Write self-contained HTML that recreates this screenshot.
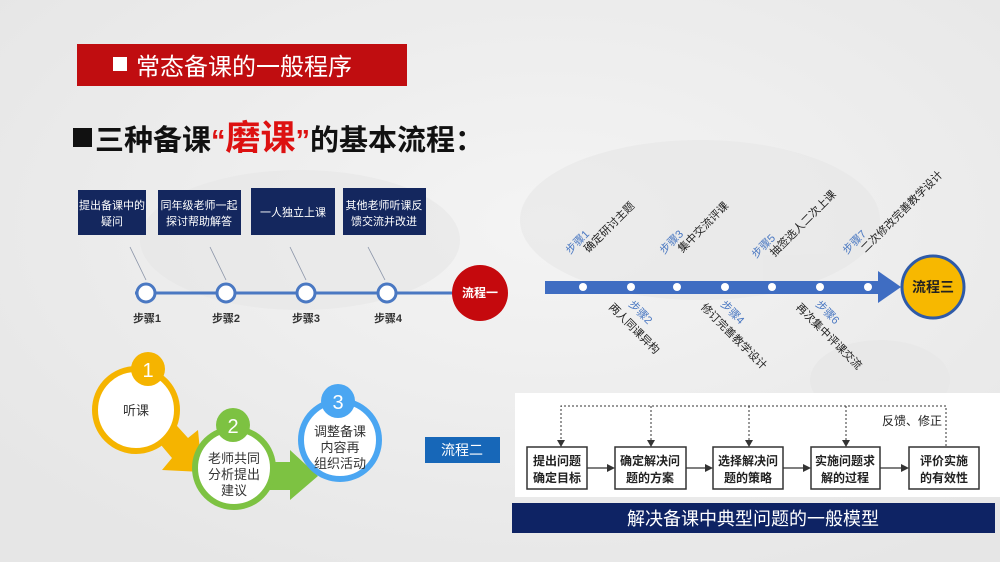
<!DOCTYPE html>
<html><head><meta charset="utf-8"><style>
body{margin:0;width:1000px;height:562px;overflow:hidden;background:#efefef;font-family:"Liberation Sans","Noto Sans CJK SC",sans-serif;}
svg{display:block}
text{font-family:"Liberation Sans","Noto Sans CJK SC",sans-serif;}
</style></head><body>
<svg width="1000" height="562" viewBox="0 0 1000 562" xmlns="http://www.w3.org/2000/svg">
<defs>
<radialGradient id="bg" cx="0.55" cy="0.4" r="0.7"><stop offset="0" stop-color="#f4f4f4"/><stop offset="1" stop-color="#e6e6e6"/></radialGradient>
</defs>
<rect width="1000" height="562" fill="url(#bg)"/>
<g fill="#e6e6e6" opacity="0.6">
<ellipse cx="300" cy="240" rx="160" ry="70"/>
<ellipse cx="700" cy="220" rx="180" ry="80"/>
<ellipse cx="880" cy="380" rx="70" ry="40"/>
</g>
<!-- header -->
<rect x="77" y="44" width="330" height="42" fill="#c00d10"/>
<rect x="113" y="57" width="14" height="14" fill="#fff"/>
<text x="136" y="75" font-size="24" fill="#fff">常态备课的一般程序</text>
<!-- title -->
<rect x="73" y="128" width="19" height="19" fill="#111"/>
<text x="95" y="150" font-size="29" font-weight="bold" fill="#111">三种备课<tspan fill="#d11">“</tspan><tspan fill="#d11" font-size="35">磨课</tspan><tspan fill="#d11">”</tspan>的基本流程：</text>

<!-- flow 1 -->
<g fill="#14275e">
<rect x="78" y="190" width="68" height="45"/>
<rect x="158" y="190" width="83" height="45"/>
<rect x="251" y="188" width="84" height="47"/>
<rect x="343" y="188" width="83" height="47"/>
</g>
<g fill="#fff" font-size="11" font-family="Liberation Serif,Noto Serif CJK SC,serif" text-anchor="middle">
<text x="112" y="209">提出备课中的</text><text x="112" y="225">疑问</text>
<text x="199" y="209">同年级老师一起</text><text x="199" y="225">探讨帮助解答</text>
<text x="293" y="216">一人独立上课</text>
<text x="384" y="209">其他老师听课反</text><text x="384" y="225">馈交流并改进</text>
</g>
<g stroke="#8a94a8" stroke-width="0.8">
<line x1="130" y1="247" x2="146" y2="280"/>
<line x1="210" y1="247" x2="226" y2="280"/>
<line x1="290" y1="247" x2="306" y2="280"/>
<line x1="368" y1="247" x2="385" y2="280"/>
</g>
<line x1="135" y1="293" x2="460" y2="293" stroke="#4a78c2" stroke-width="3"/>
<g fill="#fff" stroke="#4a78c2" stroke-width="3">
<circle cx="146" cy="293" r="9"/><circle cx="226" cy="293" r="9"/><circle cx="306" cy="293" r="9"/><circle cx="387" cy="293" r="9"/>
</g>
<g font-size="11" font-weight="bold" fill="#333" text-anchor="middle">
<text x="147" y="322">步骤1</text><text x="226" y="322">步骤2</text><text x="306" y="322">步骤3</text><text x="388" y="322">步骤4</text>
</g>
<circle cx="480" cy="293" r="28" fill="#c5090d"/>
<text x="480" y="297" font-size="12" fill="#fff" text-anchor="middle" font-weight="bold">流程一</text>

<!-- flow 3 -->
<rect x="545" y="281" width="337" height="13" fill="#3f6dc2"/>
<polygon points="878,271 901,287 878,303" fill="#3f6dc2"/>
<g fill="#fff">
<circle cx="583" cy="287" r="4"/><circle cx="631" cy="287" r="4"/><circle cx="677" cy="287" r="4"/><circle cx="725" cy="287" r="4"/><circle cx="772" cy="287" r="4"/><circle cx="820" cy="287" r="4"/><circle cx="868" cy="287" r="4"/>
</g>
<circle cx="933" cy="287" r="31" fill="#f7b800" stroke="#2e5aa8" stroke-width="3"/>
<text x="933" y="292" font-size="14" font-weight="bold" fill="#222" text-anchor="middle">流程三</text>
<g font-size="11" font-family="Liberation Serif,Noto Serif CJK SC,serif">
<g transform="translate(580,256) rotate(-45)"><text fill="#4a78c2" x="-6" y="-8">步骤1</text><text fill="#222" x="8" y="4">确定研讨主题</text></g>
<g transform="translate(674,256) rotate(-45)"><text fill="#4a78c2" x="-6" y="-8">步骤3</text><text fill="#222" x="8" y="4">集中交流评课</text></g>
<g transform="translate(766,260) rotate(-45)"><text fill="#4a78c2" x="-6" y="-8">步骤5</text><text fill="#222" x="8" y="4">抽签选人二次上课</text></g>
<g transform="translate(857,256) rotate(-45)"><text fill="#4a78c2" x="-6" y="-8">步骤7</text><text fill="#222" x="8" y="4">二次修改完善教学设计</text></g>
<g transform="translate(628,305) rotate(45)"><text fill="#4a78c2" x="0" y="0">步骤2</text><text fill="#222" x="-12" y="16">两人同课异构</text></g>
<g transform="translate(720,305) rotate(45)"><text fill="#4a78c2" x="0" y="0">步骤4</text><text fill="#222" x="-12" y="16">修订完善教学设计</text></g>
<g transform="translate(815,305) rotate(45)"><text fill="#4a78c2" x="0" y="0">步骤6</text><text fill="#222" x="-12" y="16">再次集中评课交流</text></g>
</g>

<!-- flow 2 -->
<polygon points="150,432 168,416 188,438 198,430 202,472 162,470 172,458" fill="#f5b400"/>
<polygon points="262,462 290,462 290,450 318,476 290,500 290,490 262,490" fill="#7dc242"/>
<circle cx="136" cy="410" r="41" fill="#fff" stroke="#f5b400" stroke-width="6"/>
<circle cx="148" cy="369" r="17" fill="#f5b400"/>
<text x="148" y="377" font-size="20" fill="#fff" text-anchor="middle">1</text>
<text x="136" y="415" font-size="13" fill="#333" text-anchor="middle">听课</text>
<circle cx="234" cy="468" r="39" fill="#fff" stroke="#7dc242" stroke-width="6"/>
<circle cx="233" cy="425" r="17" fill="#7dc242"/>
<text x="233" y="433" font-size="20" fill="#fff" text-anchor="middle">2</text>
<g font-size="13" fill="#333" text-anchor="middle"><text x="234" y="463">老师共同</text><text x="234" y="479">分析提出</text><text x="234" y="495">建议</text></g>
<circle cx="340" cy="440" r="39" fill="#fff" stroke="#4aa6f2" stroke-width="6"/>
<circle cx="338" cy="401" r="17" fill="#4aa6f2"/>
<text x="338" y="409" font-size="20" fill="#fff" text-anchor="middle">3</text>
<g font-size="13" fill="#333" text-anchor="middle"><text x="340" y="436">调整备课</text><text x="340" y="452">内容再</text><text x="340" y="468">组织活动</text></g>
<rect x="425" y="437" width="75" height="26" fill="#1767b8"/>
<text x="462" y="455" font-size="14" fill="#fff" text-anchor="middle">流程二</text>

<!-- model -->
<rect x="515" y="393" width="485" height="104" fill="#fff"/>
<g stroke="#333" stroke-width="1" fill="none" stroke-dasharray="2,2">
<polyline points="561,447 561,406 946,406 946,447"/>
<line x1="651" y1="406" x2="651" y2="447"/>
<line x1="749" y1="406" x2="749" y2="447"/>
<line x1="846" y1="406" x2="846" y2="447"/>
</g>
<g fill="#333">
<polygon points="557,440 565,440 561,447"/><polygon points="647,440 655,440 651,447"/><polygon points="745,440 753,440 749,447"/><polygon points="842,440 850,440 846,447"/>
</g>
<text x="882" y="425" font-size="12" fill="#222">反馈、修正</text>
<g stroke="#333" stroke-width="1.5" fill="#fff">
<rect x="527" y="447" width="60" height="42"/>
<rect x="615" y="447" width="71" height="42"/>
<rect x="713" y="447" width="70" height="42"/>
<rect x="811" y="447" width="69" height="42"/>
<rect x="909" y="447" width="70" height="42"/>
</g>
<g stroke="#333" stroke-width="1.2">
<line x1="587" y1="468" x2="610" y2="468"/><line x1="686" y1="468" x2="708" y2="468"/><line x1="783" y1="468" x2="806" y2="468"/><line x1="880" y1="468" x2="904" y2="468"/>
</g>
<g fill="#333"><polygon points="615,468 607,464 607,472"/><polygon points="713,468 705,464 705,472"/><polygon points="811,468 803,464 803,472"/><polygon points="909,468 901,464 901,472"/></g>
<g font-size="12" fill="#222" text-anchor="middle" font-family="Liberation Serif,Noto Serif CJK SC,serif" font-weight="bold">
<text x="557" y="465">提出问题</text><text x="557" y="482">确定目标</text>
<text x="650" y="465">确定解决问</text><text x="650" y="482">题的方案</text>
<text x="748" y="465">选择解决问</text><text x="748" y="482">题的策略</text>
<text x="845" y="465">实施问题求</text><text x="845" y="482">解的过程</text>
<text x="944" y="465">评价实施</text><text x="944" y="482">的有效性</text>
</g>
<rect x="512" y="503" width="483" height="30" fill="#0e2364"/>
<text x="753" y="525" font-size="18" fill="#fff" text-anchor="middle">解决备课中典型问题的一般模型</text>
</svg>
</body></html>
